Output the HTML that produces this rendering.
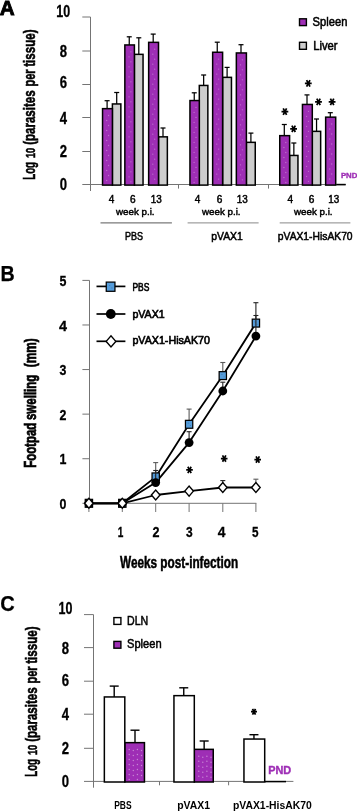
<!DOCTYPE html>
<html><head><meta charset="utf-8"><title>Figure</title>
<style>
html,body{margin:0;padding:0;background:#fff;}
body{width:357px;height:812px;overflow:hidden;}
svg{display:block;will-change:transform;font-family:"Liberation Sans",sans-serif;}
</style></head><body>
<svg width="357" height="812" viewBox="0 0 357 812">

<rect width="357" height="812" fill="#fff"/>
<g id="A">
<text x="-0.3" y="14.5" font-size="20.6" font-weight="bold" text-anchor="start" fill="#000" textLength="14.9" lengthAdjust="spacingAndGlyphs" stroke="#000" stroke-width="0.9">A</text>
<line x1="90.5" y1="17.0" x2="90.5" y2="191" stroke="#747474" stroke-width="1"/>
<line x1="82.3" y1="17.0" x2="90.5" y2="17.0" stroke="#747474" stroke-width="1"/>
<line x1="82.3" y1="51.0" x2="90.5" y2="51.0" stroke="#747474" stroke-width="1"/>
<line x1="82.3" y1="84.5" x2="90.5" y2="84.5" stroke="#747474" stroke-width="1"/>
<line x1="82.3" y1="117.5" x2="90.5" y2="117.5" stroke="#747474" stroke-width="1"/>
<line x1="82.3" y1="151.5" x2="90.5" y2="151.5" stroke="#747474" stroke-width="1"/>
<line x1="82.3" y1="184.5" x2="345.7" y2="184.5" stroke="#747474" stroke-width="1"/>
<line x1="178.5" y1="184.5" x2="178.5" y2="188.6" stroke="#747474" stroke-width="1"/>
<line x1="268.5" y1="184.5" x2="268.5" y2="188.6" stroke="#747474" stroke-width="1"/>
<text x="56.35" y="16.8" font-size="15.6" font-weight="bold" text-anchor="start" fill="#000" textLength="13.9" lengthAdjust="spacingAndGlyphs" stroke="#000" stroke-width="0.3">10</text>
<text x="59.65" y="57.0" font-size="15.6" font-weight="bold" text-anchor="start" fill="#000" textLength="7.3" lengthAdjust="spacingAndGlyphs" stroke="#000" stroke-width="0.3">8</text>
<text x="59.65" y="88.4" font-size="15.6" font-weight="bold" text-anchor="start" fill="#000" textLength="7.3" lengthAdjust="spacingAndGlyphs" stroke="#000" stroke-width="0.3">6</text>
<text x="59.65" y="123.8" font-size="15.6" font-weight="bold" text-anchor="start" fill="#000" textLength="7.3" lengthAdjust="spacingAndGlyphs" stroke="#000" stroke-width="0.3">4</text>
<text x="59.65" y="156.8" font-size="15.6" font-weight="bold" text-anchor="start" fill="#000" textLength="7.3" lengthAdjust="spacingAndGlyphs" stroke="#000" stroke-width="0.3">2</text>
<text x="59.65" y="190.4" font-size="15.6" font-weight="bold" text-anchor="start" fill="#000" textLength="7.3" lengthAdjust="spacingAndGlyphs" stroke="#000" stroke-width="0.3">0</text>
<g transform="translate(35.2 179.8) rotate(-90)">
<text x="0" y="0" font-size="16.2" font-weight="bold" text-anchor="start" fill="#000" textLength="17.8" lengthAdjust="spacingAndGlyphs" stroke="#000" stroke-width="0.55">Log</text>
<text x="21.8" y="0" font-size="12.0" font-weight="bold" text-anchor="start" fill="#000" textLength="10.2" lengthAdjust="spacingAndGlyphs" stroke="#000" stroke-width="0.55">10</text>
<text x="35.0" y="0" font-size="16.2" font-weight="bold" text-anchor="start" fill="#000" textLength="54.4" lengthAdjust="spacingAndGlyphs" stroke="#000" stroke-width="0.55">(parasites</text>
<text x="93.2" y="0" font-size="16.2" font-weight="bold" text-anchor="start" fill="#000" textLength="17.2" lengthAdjust="spacingAndGlyphs" stroke="#000" stroke-width="0.55">per</text>
<text x="113.0" y="0" font-size="16.2" font-weight="bold" text-anchor="start" fill="#000" textLength="37.4" lengthAdjust="spacingAndGlyphs" stroke="#000" stroke-width="0.55">tissue)</text>
</g>
<line x1="116.7" y1="92.5" x2="116.7" y2="104.2" stroke="#000" stroke-width="1.25"/>
<line x1="114.2" y1="92.5" x2="119.2" y2="92.5" stroke="#000" stroke-width="1.25"/>
<rect x="112.40" y="103.95" width="8.45" height="81.15" fill="#CDCDCD" stroke="#000" stroke-width="1.5"/>
<line x1="107.1" y1="100.7" x2="107.1" y2="108.9" stroke="#000" stroke-width="1.25"/>
<line x1="104.6" y1="100.7" x2="109.6" y2="100.7" stroke="#000" stroke-width="1.25"/>
<rect x="102.55" y="108.65" width="9.85" height="76.45" fill="#9E2EB5" stroke="#000" stroke-width="1.5"/>
<circle cx="108.6" cy="115.5" r="0.65" fill="#fff" opacity="0.32"/>
<circle cx="106.7" cy="120.5" r="0.65" fill="#fff" opacity="0.32"/>
<circle cx="108.6" cy="125.5" r="0.65" fill="#fff" opacity="0.32"/>
<circle cx="106.7" cy="130.5" r="0.65" fill="#fff" opacity="0.32"/>
<circle cx="108.6" cy="135.5" r="0.65" fill="#fff" opacity="0.32"/>
<circle cx="106.7" cy="140.5" r="0.65" fill="#fff" opacity="0.32"/>
<circle cx="108.6" cy="145.5" r="0.65" fill="#fff" opacity="0.32"/>
<circle cx="106.7" cy="150.5" r="0.65" fill="#fff" opacity="0.32"/>
<circle cx="108.6" cy="155.5" r="0.65" fill="#fff" opacity="0.32"/>
<circle cx="106.7" cy="160.5" r="0.65" fill="#fff" opacity="0.32"/>
<circle cx="108.6" cy="165.5" r="0.65" fill="#fff" opacity="0.32"/>
<circle cx="106.7" cy="170.5" r="0.65" fill="#fff" opacity="0.32"/>
<circle cx="108.6" cy="175.5" r="0.65" fill="#fff" opacity="0.32"/>
<circle cx="106.7" cy="180.5" r="0.65" fill="#fff" opacity="0.32"/>
<line x1="138.8" y1="37.8" x2="138.8" y2="54.6" stroke="#000" stroke-width="1.25"/>
<line x1="136.3" y1="37.8" x2="141.3" y2="37.8" stroke="#000" stroke-width="1.25"/>
<rect x="134.40" y="54.35" width="8.65" height="130.75" fill="#CDCDCD" stroke="#000" stroke-width="1.5"/>
<line x1="129.25" y1="36.8" x2="129.25" y2="45.199999999999996" stroke="#000" stroke-width="1.25"/>
<line x1="126.75" y1="36.8" x2="131.75" y2="36.8" stroke="#000" stroke-width="1.25"/>
<rect x="124.85" y="44.95" width="9.55" height="140.15" fill="#9E2EB5" stroke="#000" stroke-width="1.5"/>
<circle cx="130.9" cy="51.8" r="0.65" fill="#fff" opacity="0.32"/>
<circle cx="129.0" cy="56.8" r="0.65" fill="#fff" opacity="0.32"/>
<circle cx="130.9" cy="61.8" r="0.65" fill="#fff" opacity="0.32"/>
<circle cx="129.0" cy="66.8" r="0.65" fill="#fff" opacity="0.32"/>
<circle cx="130.9" cy="71.8" r="0.65" fill="#fff" opacity="0.32"/>
<circle cx="129.0" cy="76.8" r="0.65" fill="#fff" opacity="0.32"/>
<circle cx="130.9" cy="81.8" r="0.65" fill="#fff" opacity="0.32"/>
<circle cx="129.0" cy="86.8" r="0.65" fill="#fff" opacity="0.32"/>
<circle cx="130.9" cy="91.8" r="0.65" fill="#fff" opacity="0.32"/>
<circle cx="129.0" cy="96.8" r="0.65" fill="#fff" opacity="0.32"/>
<circle cx="130.9" cy="101.8" r="0.65" fill="#fff" opacity="0.32"/>
<circle cx="129.0" cy="106.8" r="0.65" fill="#fff" opacity="0.32"/>
<circle cx="130.9" cy="111.8" r="0.65" fill="#fff" opacity="0.32"/>
<circle cx="129.0" cy="116.8" r="0.65" fill="#fff" opacity="0.32"/>
<circle cx="130.9" cy="121.8" r="0.65" fill="#fff" opacity="0.32"/>
<circle cx="129.0" cy="126.8" r="0.65" fill="#fff" opacity="0.32"/>
<circle cx="130.9" cy="131.8" r="0.65" fill="#fff" opacity="0.32"/>
<circle cx="129.0" cy="136.8" r="0.65" fill="#fff" opacity="0.32"/>
<circle cx="130.9" cy="141.8" r="0.65" fill="#fff" opacity="0.32"/>
<circle cx="129.0" cy="146.8" r="0.65" fill="#fff" opacity="0.32"/>
<circle cx="130.9" cy="151.8" r="0.65" fill="#fff" opacity="0.32"/>
<circle cx="129.0" cy="156.8" r="0.65" fill="#fff" opacity="0.32"/>
<circle cx="130.9" cy="161.8" r="0.65" fill="#fff" opacity="0.32"/>
<circle cx="129.0" cy="166.8" r="0.65" fill="#fff" opacity="0.32"/>
<circle cx="130.9" cy="171.8" r="0.65" fill="#fff" opacity="0.32"/>
<circle cx="129.0" cy="176.8" r="0.65" fill="#fff" opacity="0.32"/>
<circle cx="130.9" cy="181.8" r="0.65" fill="#fff" opacity="0.32"/>
<line x1="163.0" y1="128.0" x2="163.0" y2="137.1" stroke="#000" stroke-width="1.25"/>
<line x1="160.5" y1="128.0" x2="165.5" y2="128.0" stroke="#000" stroke-width="1.25"/>
<rect x="158.50" y="136.85" width="8.85" height="48.25" fill="#CDCDCD" stroke="#000" stroke-width="1.5"/>
<line x1="153.2" y1="34.1" x2="153.2" y2="42.6" stroke="#000" stroke-width="1.25"/>
<line x1="150.7" y1="34.1" x2="155.7" y2="34.1" stroke="#000" stroke-width="1.25"/>
<rect x="148.65" y="42.35" width="9.85" height="142.75" fill="#9E2EB5" stroke="#000" stroke-width="1.5"/>
<circle cx="154.7" cy="49.2" r="0.65" fill="#fff" opacity="0.32"/>
<circle cx="152.8" cy="54.2" r="0.65" fill="#fff" opacity="0.32"/>
<circle cx="154.7" cy="59.2" r="0.65" fill="#fff" opacity="0.32"/>
<circle cx="152.8" cy="64.2" r="0.65" fill="#fff" opacity="0.32"/>
<circle cx="154.7" cy="69.2" r="0.65" fill="#fff" opacity="0.32"/>
<circle cx="152.8" cy="74.2" r="0.65" fill="#fff" opacity="0.32"/>
<circle cx="154.7" cy="79.2" r="0.65" fill="#fff" opacity="0.32"/>
<circle cx="152.8" cy="84.2" r="0.65" fill="#fff" opacity="0.32"/>
<circle cx="154.7" cy="89.2" r="0.65" fill="#fff" opacity="0.32"/>
<circle cx="152.8" cy="94.2" r="0.65" fill="#fff" opacity="0.32"/>
<circle cx="154.7" cy="99.2" r="0.65" fill="#fff" opacity="0.32"/>
<circle cx="152.8" cy="104.2" r="0.65" fill="#fff" opacity="0.32"/>
<circle cx="154.7" cy="109.2" r="0.65" fill="#fff" opacity="0.32"/>
<circle cx="152.8" cy="114.2" r="0.65" fill="#fff" opacity="0.32"/>
<circle cx="154.7" cy="119.2" r="0.65" fill="#fff" opacity="0.32"/>
<circle cx="152.8" cy="124.2" r="0.65" fill="#fff" opacity="0.32"/>
<circle cx="154.7" cy="129.2" r="0.65" fill="#fff" opacity="0.32"/>
<circle cx="152.8" cy="134.2" r="0.65" fill="#fff" opacity="0.32"/>
<circle cx="154.7" cy="139.2" r="0.65" fill="#fff" opacity="0.32"/>
<circle cx="152.8" cy="144.2" r="0.65" fill="#fff" opacity="0.32"/>
<circle cx="154.7" cy="149.2" r="0.65" fill="#fff" opacity="0.32"/>
<circle cx="152.8" cy="154.2" r="0.65" fill="#fff" opacity="0.32"/>
<circle cx="154.7" cy="159.2" r="0.65" fill="#fff" opacity="0.32"/>
<circle cx="152.8" cy="164.2" r="0.65" fill="#fff" opacity="0.32"/>
<circle cx="154.7" cy="169.2" r="0.65" fill="#fff" opacity="0.32"/>
<circle cx="152.8" cy="174.2" r="0.65" fill="#fff" opacity="0.32"/>
<circle cx="154.7" cy="179.2" r="0.65" fill="#fff" opacity="0.32"/>
<line x1="203.64999999999998" y1="75.0" x2="203.64999999999998" y2="85.7" stroke="#000" stroke-width="1.25"/>
<line x1="201.14999999999998" y1="75.0" x2="206.14999999999998" y2="75.0" stroke="#000" stroke-width="1.25"/>
<rect x="199.30" y="85.45" width="8.55" height="99.65" fill="#CDCDCD" stroke="#000" stroke-width="1.5"/>
<line x1="194.25" y1="92.8" x2="194.25" y2="100.80000000000001" stroke="#000" stroke-width="1.25"/>
<line x1="191.75" y1="92.8" x2="196.75" y2="92.8" stroke="#000" stroke-width="1.25"/>
<rect x="189.95" y="100.55" width="9.35" height="84.55" fill="#9E2EB5" stroke="#000" stroke-width="1.5"/>
<circle cx="196.0" cy="107.4" r="0.65" fill="#fff" opacity="0.32"/>
<circle cx="194.1" cy="112.4" r="0.65" fill="#fff" opacity="0.32"/>
<circle cx="196.0" cy="117.4" r="0.65" fill="#fff" opacity="0.32"/>
<circle cx="194.1" cy="122.4" r="0.65" fill="#fff" opacity="0.32"/>
<circle cx="196.0" cy="127.4" r="0.65" fill="#fff" opacity="0.32"/>
<circle cx="194.1" cy="132.4" r="0.65" fill="#fff" opacity="0.32"/>
<circle cx="196.0" cy="137.4" r="0.65" fill="#fff" opacity="0.32"/>
<circle cx="194.1" cy="142.4" r="0.65" fill="#fff" opacity="0.32"/>
<circle cx="196.0" cy="147.4" r="0.65" fill="#fff" opacity="0.32"/>
<circle cx="194.1" cy="152.4" r="0.65" fill="#fff" opacity="0.32"/>
<circle cx="196.0" cy="157.4" r="0.65" fill="#fff" opacity="0.32"/>
<circle cx="194.1" cy="162.4" r="0.65" fill="#fff" opacity="0.32"/>
<circle cx="196.0" cy="167.4" r="0.65" fill="#fff" opacity="0.32"/>
<circle cx="194.1" cy="172.4" r="0.65" fill="#fff" opacity="0.32"/>
<circle cx="196.0" cy="177.4" r="0.65" fill="#fff" opacity="0.32"/>
<circle cx="194.1" cy="182.4" r="0.65" fill="#fff" opacity="0.32"/>
<line x1="227.10000000000002" y1="67.4" x2="227.10000000000002" y2="77.60000000000001" stroke="#000" stroke-width="1.25"/>
<line x1="224.60000000000002" y1="67.4" x2="229.60000000000002" y2="67.4" stroke="#000" stroke-width="1.25"/>
<rect x="222.60" y="77.35" width="8.85" height="107.75" fill="#CDCDCD" stroke="#000" stroke-width="1.5"/>
<line x1="217.25" y1="42.2" x2="217.25" y2="52.5" stroke="#000" stroke-width="1.25"/>
<line x1="214.75" y1="42.2" x2="219.75" y2="42.2" stroke="#000" stroke-width="1.25"/>
<rect x="212.65" y="52.25" width="9.95" height="132.85" fill="#9E2EB5" stroke="#000" stroke-width="1.5"/>
<circle cx="218.7" cy="59.1" r="0.65" fill="#fff" opacity="0.32"/>
<circle cx="216.8" cy="64.1" r="0.65" fill="#fff" opacity="0.32"/>
<circle cx="218.7" cy="69.1" r="0.65" fill="#fff" opacity="0.32"/>
<circle cx="216.8" cy="74.1" r="0.65" fill="#fff" opacity="0.32"/>
<circle cx="218.7" cy="79.1" r="0.65" fill="#fff" opacity="0.32"/>
<circle cx="216.8" cy="84.1" r="0.65" fill="#fff" opacity="0.32"/>
<circle cx="218.7" cy="89.1" r="0.65" fill="#fff" opacity="0.32"/>
<circle cx="216.8" cy="94.1" r="0.65" fill="#fff" opacity="0.32"/>
<circle cx="218.7" cy="99.1" r="0.65" fill="#fff" opacity="0.32"/>
<circle cx="216.8" cy="104.1" r="0.65" fill="#fff" opacity="0.32"/>
<circle cx="218.7" cy="109.1" r="0.65" fill="#fff" opacity="0.32"/>
<circle cx="216.8" cy="114.1" r="0.65" fill="#fff" opacity="0.32"/>
<circle cx="218.7" cy="119.1" r="0.65" fill="#fff" opacity="0.32"/>
<circle cx="216.8" cy="124.1" r="0.65" fill="#fff" opacity="0.32"/>
<circle cx="218.7" cy="129.1" r="0.65" fill="#fff" opacity="0.32"/>
<circle cx="216.8" cy="134.1" r="0.65" fill="#fff" opacity="0.32"/>
<circle cx="218.7" cy="139.1" r="0.65" fill="#fff" opacity="0.32"/>
<circle cx="216.8" cy="144.1" r="0.65" fill="#fff" opacity="0.32"/>
<circle cx="218.7" cy="149.1" r="0.65" fill="#fff" opacity="0.32"/>
<circle cx="216.8" cy="154.1" r="0.65" fill="#fff" opacity="0.32"/>
<circle cx="218.7" cy="159.1" r="0.65" fill="#fff" opacity="0.32"/>
<circle cx="216.8" cy="164.1" r="0.65" fill="#fff" opacity="0.32"/>
<circle cx="218.7" cy="169.1" r="0.65" fill="#fff" opacity="0.32"/>
<circle cx="216.8" cy="174.1" r="0.65" fill="#fff" opacity="0.32"/>
<circle cx="218.7" cy="179.1" r="0.65" fill="#fff" opacity="0.32"/>
<line x1="250.89999999999998" y1="133.1" x2="250.89999999999998" y2="142.6" stroke="#000" stroke-width="1.25"/>
<line x1="248.39999999999998" y1="133.1" x2="253.39999999999998" y2="133.1" stroke="#000" stroke-width="1.25"/>
<rect x="246.40" y="142.35" width="8.85" height="42.75" fill="#CDCDCD" stroke="#000" stroke-width="1.5"/>
<line x1="241.0" y1="44.7" x2="241.0" y2="53.199999999999996" stroke="#000" stroke-width="1.25"/>
<line x1="238.5" y1="44.7" x2="243.5" y2="44.7" stroke="#000" stroke-width="1.25"/>
<rect x="236.35" y="52.95" width="10.05" height="132.15" fill="#9E2EB5" stroke="#000" stroke-width="1.5"/>
<circle cx="242.4" cy="59.8" r="0.65" fill="#fff" opacity="0.32"/>
<circle cx="240.5" cy="64.8" r="0.65" fill="#fff" opacity="0.32"/>
<circle cx="242.4" cy="69.8" r="0.65" fill="#fff" opacity="0.32"/>
<circle cx="240.5" cy="74.8" r="0.65" fill="#fff" opacity="0.32"/>
<circle cx="242.4" cy="79.8" r="0.65" fill="#fff" opacity="0.32"/>
<circle cx="240.5" cy="84.8" r="0.65" fill="#fff" opacity="0.32"/>
<circle cx="242.4" cy="89.8" r="0.65" fill="#fff" opacity="0.32"/>
<circle cx="240.5" cy="94.8" r="0.65" fill="#fff" opacity="0.32"/>
<circle cx="242.4" cy="99.8" r="0.65" fill="#fff" opacity="0.32"/>
<circle cx="240.5" cy="104.8" r="0.65" fill="#fff" opacity="0.32"/>
<circle cx="242.4" cy="109.8" r="0.65" fill="#fff" opacity="0.32"/>
<circle cx="240.5" cy="114.8" r="0.65" fill="#fff" opacity="0.32"/>
<circle cx="242.4" cy="119.8" r="0.65" fill="#fff" opacity="0.32"/>
<circle cx="240.5" cy="124.8" r="0.65" fill="#fff" opacity="0.32"/>
<circle cx="242.4" cy="129.8" r="0.65" fill="#fff" opacity="0.32"/>
<circle cx="240.5" cy="134.8" r="0.65" fill="#fff" opacity="0.32"/>
<circle cx="242.4" cy="139.8" r="0.65" fill="#fff" opacity="0.32"/>
<circle cx="240.5" cy="144.8" r="0.65" fill="#fff" opacity="0.32"/>
<circle cx="242.4" cy="149.8" r="0.65" fill="#fff" opacity="0.32"/>
<circle cx="240.5" cy="154.8" r="0.65" fill="#fff" opacity="0.32"/>
<circle cx="242.4" cy="159.8" r="0.65" fill="#fff" opacity="0.32"/>
<circle cx="240.5" cy="164.8" r="0.65" fill="#fff" opacity="0.32"/>
<circle cx="242.4" cy="169.8" r="0.65" fill="#fff" opacity="0.32"/>
<circle cx="240.5" cy="174.8" r="0.65" fill="#fff" opacity="0.32"/>
<circle cx="242.4" cy="179.8" r="0.65" fill="#fff" opacity="0.32"/>
<line x1="293.84999999999997" y1="143.0" x2="293.84999999999997" y2="155.70000000000002" stroke="#000" stroke-width="1.25"/>
<line x1="291.34999999999997" y1="143.0" x2="296.34999999999997" y2="143.0" stroke="#000" stroke-width="1.25"/>
<rect x="289.60" y="155.45" width="8.35" height="29.65" fill="#CDCDCD" stroke="#000" stroke-width="1.5"/>
<line x1="284.29999999999995" y1="124.5" x2="284.29999999999995" y2="135.9" stroke="#000" stroke-width="1.25"/>
<line x1="281.79999999999995" y1="124.5" x2="286.79999999999995" y2="124.5" stroke="#000" stroke-width="1.25"/>
<rect x="279.75" y="135.65" width="9.85" height="49.45" fill="#9E2EB5" stroke="#000" stroke-width="1.5"/>
<circle cx="285.8" cy="142.5" r="0.65" fill="#fff" opacity="0.32"/>
<circle cx="283.9" cy="147.5" r="0.65" fill="#fff" opacity="0.32"/>
<circle cx="285.8" cy="152.5" r="0.65" fill="#fff" opacity="0.32"/>
<circle cx="283.9" cy="157.5" r="0.65" fill="#fff" opacity="0.32"/>
<circle cx="285.8" cy="162.5" r="0.65" fill="#fff" opacity="0.32"/>
<circle cx="283.9" cy="167.5" r="0.65" fill="#fff" opacity="0.32"/>
<circle cx="285.8" cy="172.5" r="0.65" fill="#fff" opacity="0.32"/>
<circle cx="283.9" cy="177.5" r="0.65" fill="#fff" opacity="0.32"/>
<circle cx="285.8" cy="182.5" r="0.65" fill="#fff" opacity="0.32"/>
<line x1="316.54999999999995" y1="119.0" x2="316.54999999999995" y2="131.6" stroke="#000" stroke-width="1.25"/>
<line x1="314.04999999999995" y1="119.0" x2="319.04999999999995" y2="119.0" stroke="#000" stroke-width="1.25"/>
<rect x="312.30" y="131.35" width="8.35" height="53.75" fill="#CDCDCD" stroke="#000" stroke-width="1.5"/>
<line x1="307.0" y1="94.9" x2="307.0" y2="104.7" stroke="#000" stroke-width="1.25"/>
<line x1="304.5" y1="94.9" x2="309.5" y2="94.9" stroke="#000" stroke-width="1.25"/>
<rect x="302.45" y="104.45" width="9.85" height="80.65" fill="#9E2EB5" stroke="#000" stroke-width="1.5"/>
<circle cx="308.5" cy="111.3" r="0.65" fill="#fff" opacity="0.32"/>
<circle cx="306.6" cy="116.3" r="0.65" fill="#fff" opacity="0.32"/>
<circle cx="308.5" cy="121.3" r="0.65" fill="#fff" opacity="0.32"/>
<circle cx="306.6" cy="126.3" r="0.65" fill="#fff" opacity="0.32"/>
<circle cx="308.5" cy="131.3" r="0.65" fill="#fff" opacity="0.32"/>
<circle cx="306.6" cy="136.3" r="0.65" fill="#fff" opacity="0.32"/>
<circle cx="308.5" cy="141.3" r="0.65" fill="#fff" opacity="0.32"/>
<circle cx="306.6" cy="146.3" r="0.65" fill="#fff" opacity="0.32"/>
<circle cx="308.5" cy="151.3" r="0.65" fill="#fff" opacity="0.32"/>
<circle cx="306.6" cy="156.3" r="0.65" fill="#fff" opacity="0.32"/>
<circle cx="308.5" cy="161.3" r="0.65" fill="#fff" opacity="0.32"/>
<circle cx="306.6" cy="166.3" r="0.65" fill="#fff" opacity="0.32"/>
<circle cx="308.5" cy="171.3" r="0.65" fill="#fff" opacity="0.32"/>
<circle cx="306.6" cy="176.3" r="0.65" fill="#fff" opacity="0.32"/>
<circle cx="308.5" cy="181.3" r="0.65" fill="#fff" opacity="0.32"/>
<line x1="330.29999999999995" y1="112.7" x2="330.29999999999995" y2="117.4" stroke="#000" stroke-width="1.25"/>
<line x1="327.79999999999995" y1="112.7" x2="332.79999999999995" y2="112.7" stroke="#000" stroke-width="1.25"/>
<rect x="325.65" y="117.15" width="10.05" height="67.95" fill="#9E2EB5" stroke="#000" stroke-width="1.5"/>
<circle cx="331.7" cy="124.0" r="0.65" fill="#fff" opacity="0.32"/>
<circle cx="329.8" cy="129.0" r="0.65" fill="#fff" opacity="0.32"/>
<circle cx="331.7" cy="134.0" r="0.65" fill="#fff" opacity="0.32"/>
<circle cx="329.8" cy="139.0" r="0.65" fill="#fff" opacity="0.32"/>
<circle cx="331.7" cy="144.0" r="0.65" fill="#fff" opacity="0.32"/>
<circle cx="329.8" cy="149.0" r="0.65" fill="#fff" opacity="0.32"/>
<circle cx="331.7" cy="154.0" r="0.65" fill="#fff" opacity="0.32"/>
<circle cx="329.8" cy="159.0" r="0.65" fill="#fff" opacity="0.32"/>
<circle cx="331.7" cy="164.0" r="0.65" fill="#fff" opacity="0.32"/>
<circle cx="329.8" cy="169.0" r="0.65" fill="#fff" opacity="0.32"/>
<circle cx="331.7" cy="174.0" r="0.65" fill="#fff" opacity="0.32"/>
<circle cx="329.8" cy="179.0" r="0.65" fill="#fff" opacity="0.32"/>
<line x1="336.3" y1="184.6" x2="345.7" y2="184.6" stroke="#000" stroke-width="1.6"/>
<text x="340.9" y="177.8" font-size="6.6" font-weight="bold" text-anchor="start" fill="#9E2EB5" textLength="16.5" lengthAdjust="spacingAndGlyphs" stroke="#9E2EB5" stroke-width="0.3">PND</text>
<path d="M281.50 111.60H288.30M283.20 108.37L286.60 114.83M283.20 114.83L286.60 108.37" stroke="#000" stroke-width="1.75" fill="none"/>
<path d="M290.20 128.80H297.00M291.90 125.57L295.30 132.03M291.90 132.03L295.30 125.57" stroke="#000" stroke-width="1.75" fill="none"/>
<path d="M304.90 83.40H311.70M306.60 80.17L310.00 86.63M306.60 86.63L310.00 80.17" stroke="#000" stroke-width="1.75" fill="none"/>
<path d="M315.10 101.90H321.90M316.80 98.67L320.20 105.13M316.80 105.13L320.20 98.67" stroke="#000" stroke-width="1.75" fill="none"/>
<path d="M328.70 101.90H335.50M330.40 98.67L333.80 105.13M330.40 105.13L333.80 98.67" stroke="#000" stroke-width="1.75" fill="none"/>
<text x="108.8" y="203.3" font-size="10.0" font-weight="normal" text-anchor="start" fill="#000" textLength="5.6" lengthAdjust="spacingAndGlyphs" stroke="#000" stroke-width="0.45">4</text>
<text x="130.0" y="203.3" font-size="10.0" font-weight="normal" text-anchor="start" fill="#000" textLength="5.6" lengthAdjust="spacingAndGlyphs" stroke="#000" stroke-width="0.45">6</text>
<text x="150.8" y="203.3" font-size="10.0" font-weight="normal" text-anchor="start" fill="#000" textLength="11.0" lengthAdjust="spacingAndGlyphs" stroke="#000" stroke-width="0.45">13</text>
<text x="116.0" y="215.2" font-size="9.8" font-weight="normal" text-anchor="start" fill="#000" textLength="38.6" lengthAdjust="spacingAndGlyphs" stroke="#000" stroke-width="0.45">week p.i.</text>
<line x1="100.5" y1="222.9" x2="171.9" y2="222.9" stroke="#7a7a7a" stroke-width="1.4"/>
<text x="124.9" y="240.2" font-size="11.8" font-weight="normal" text-anchor="start" fill="#000" textLength="18.0" lengthAdjust="spacingAndGlyphs" stroke="#000" stroke-width="0.55">PBS</text>
<text x="194.8" y="203.3" font-size="10.0" font-weight="normal" text-anchor="start" fill="#000" textLength="5.6" lengthAdjust="spacingAndGlyphs" stroke="#000" stroke-width="0.45">4</text>
<text x="216.8" y="203.3" font-size="10.0" font-weight="normal" text-anchor="start" fill="#000" textLength="5.6" lengthAdjust="spacingAndGlyphs" stroke="#000" stroke-width="0.45">6</text>
<text x="236.8" y="203.3" font-size="10.0" font-weight="normal" text-anchor="start" fill="#000" textLength="11.0" lengthAdjust="spacingAndGlyphs" stroke="#000" stroke-width="0.45">13</text>
<text x="202.0" y="215.2" font-size="9.8" font-weight="normal" text-anchor="start" fill="#000" textLength="38.6" lengthAdjust="spacingAndGlyphs" stroke="#000" stroke-width="0.45">week p.i.</text>
<line x1="187.6" y1="222.9" x2="258.6" y2="222.9" stroke="#7a7a7a" stroke-width="0.9"/>
<text x="211.2" y="240.2" font-size="11.8" font-weight="normal" text-anchor="start" fill="#000" textLength="31.6" lengthAdjust="spacingAndGlyphs" stroke="#000" stroke-width="0.55">pVAX1</text>
<text x="287.4" y="203.3" font-size="10.0" font-weight="normal" text-anchor="start" fill="#000" textLength="5.6" lengthAdjust="spacingAndGlyphs" stroke="#000" stroke-width="0.45">4</text>
<text x="308.8" y="203.3" font-size="10.0" font-weight="normal" text-anchor="start" fill="#000" textLength="5.6" lengthAdjust="spacingAndGlyphs" stroke="#000" stroke-width="0.45">6</text>
<text x="328.3" y="203.3" font-size="10.0" font-weight="normal" text-anchor="start" fill="#000" textLength="11.0" lengthAdjust="spacingAndGlyphs" stroke="#000" stroke-width="0.45">13</text>
<text x="294.0" y="215.2" font-size="9.8" font-weight="normal" text-anchor="start" fill="#000" textLength="38.6" lengthAdjust="spacingAndGlyphs" stroke="#000" stroke-width="0.45">week p.i.</text>
<line x1="279.7" y1="222.9" x2="350.4" y2="222.9" stroke="#7a7a7a" stroke-width="0.9"/>
<text x="277.8" y="240.2" font-size="11.8" font-weight="normal" text-anchor="start" fill="#000" textLength="74.8" lengthAdjust="spacingAndGlyphs" stroke="#000" stroke-width="0.55">pVAX1-HisAK70</text>
<rect x="299.5" y="18.8" width="6.9" height="6.8" fill="#9E2EB5" stroke="#000" stroke-width="1.4"/>
<rect x="299.5" y="42.3" width="6.9" height="7.0" fill="#CDCDCD" stroke="#000" stroke-width="1.4"/>
<text x="312.6" y="26.2" font-size="12.7" font-weight="normal" text-anchor="start" fill="#000" textLength="34.8" lengthAdjust="spacingAndGlyphs" stroke="#000" stroke-width="0.55">Spleen</text>
<text x="313.2" y="49.8" font-size="12.7" font-weight="normal" text-anchor="start" fill="#000" textLength="24.4" lengthAdjust="spacingAndGlyphs" stroke="#000" stroke-width="0.55">Liver</text>
</g>
<g id="B">
<text x="0.4" y="281.0" font-size="21.6" font-weight="bold" text-anchor="start" fill="#000" textLength="14.2" lengthAdjust="spacingAndGlyphs" stroke="#000" stroke-width="0.25">B</text>
<line x1="89.5" y1="280.4" x2="89.5" y2="503.3" stroke="#747474" stroke-width="1"/>
<line x1="82.4" y1="280.4" x2="89.5" y2="280.4" stroke="#747474" stroke-width="1"/>
<line x1="82.4" y1="324.98" x2="89.5" y2="324.98" stroke="#747474" stroke-width="1"/>
<line x1="82.4" y1="369.56" x2="89.5" y2="369.56" stroke="#747474" stroke-width="1"/>
<line x1="82.4" y1="414.14" x2="89.5" y2="414.14" stroke="#747474" stroke-width="1"/>
<line x1="82.4" y1="458.72" x2="89.5" y2="458.72" stroke="#747474" stroke-width="1"/>
<line x1="82.4" y1="503.3" x2="89.5" y2="503.3" stroke="#747474" stroke-width="1"/>
<line x1="89.5" y1="503.3" x2="256.4" y2="503.3" stroke="#747474" stroke-width="1"/>
<line x1="88.9" y1="503.3" x2="88.9" y2="512.0" stroke="#747474" stroke-width="1"/>
<line x1="122.3" y1="503.3" x2="122.3" y2="512.0" stroke="#747474" stroke-width="1"/>
<line x1="155.7" y1="503.3" x2="155.7" y2="512.0" stroke="#747474" stroke-width="1"/>
<line x1="189.1" y1="503.3" x2="189.1" y2="512.0" stroke="#747474" stroke-width="1"/>
<line x1="222.8" y1="503.3" x2="222.8" y2="512.0" stroke="#747474" stroke-width="1"/>
<line x1="255.9" y1="503.3" x2="255.9" y2="512.0" stroke="#747474" stroke-width="1"/>
<text x="59.55" y="286.0" font-size="15.2" font-weight="bold" text-anchor="start" fill="#000" textLength="6.9" lengthAdjust="spacingAndGlyphs" stroke="#000" stroke-width="0.3">5</text>
<text x="59.0" y="330.58" font-size="15.2" font-weight="bold" text-anchor="start" fill="#000" textLength="8.0" lengthAdjust="spacingAndGlyphs" stroke="#000" stroke-width="0.3">4</text>
<text x="59.55" y="375.16" font-size="15.2" font-weight="bold" text-anchor="start" fill="#000" textLength="6.9" lengthAdjust="spacingAndGlyphs" stroke="#000" stroke-width="0.3">3</text>
<text x="59.55" y="419.74" font-size="15.2" font-weight="bold" text-anchor="start" fill="#000" textLength="6.9" lengthAdjust="spacingAndGlyphs" stroke="#000" stroke-width="0.3">2</text>
<text x="59.55" y="464.32" font-size="15.2" font-weight="bold" text-anchor="start" fill="#000" textLength="6.9" lengthAdjust="spacingAndGlyphs" stroke="#000" stroke-width="0.3">1</text>
<text x="59.55" y="508.9" font-size="15.2" font-weight="bold" text-anchor="start" fill="#000" textLength="6.9" lengthAdjust="spacingAndGlyphs" stroke="#000" stroke-width="0.3">0</text>
<g transform="translate(36.4 467.8) rotate(-90)">
<text x="0" y="0" font-size="15.8" font-weight="bold" text-anchor="start" fill="#000" textLength="45.0" lengthAdjust="spacingAndGlyphs" stroke="#000" stroke-width="0.7">Footpad</text>
<text x="47.7" y="0" font-size="15.8" font-weight="bold" text-anchor="start" fill="#000" textLength="45.5" lengthAdjust="spacingAndGlyphs" stroke="#000" stroke-width="0.7">swelling</text>
<text x="100.6" y="0" font-size="15.8" font-weight="bold" text-anchor="start" fill="#000" textLength="29.0" lengthAdjust="spacingAndGlyphs" stroke="#000" stroke-width="0.7">(mm)</text>
</g>
<line x1="155.7" y1="462.6" x2="155.7" y2="476.9" stroke="#5a5a5a" stroke-width="1.1"/>
<line x1="153.2" y1="462.6" x2="158.2" y2="462.6" stroke="#5a5a5a" stroke-width="1.1"/>
<line x1="189.1" y1="409.1" x2="189.1" y2="424.3" stroke="#5a5a5a" stroke-width="1.1"/>
<line x1="186.6" y1="409.1" x2="191.6" y2="409.1" stroke="#5a5a5a" stroke-width="1.1"/>
<line x1="222.8" y1="362.5" x2="222.8" y2="375.6" stroke="#5a5a5a" stroke-width="1.1"/>
<line x1="220.3" y1="362.5" x2="225.3" y2="362.5" stroke="#5a5a5a" stroke-width="1.1"/>
<line x1="255.9" y1="302.7" x2="255.9" y2="323.1" stroke="#222" stroke-width="1.1"/>
<line x1="253.4" y1="302.7" x2="258.4" y2="302.7" stroke="#222" stroke-width="1.1"/>
<polyline points="88.90,503.30 122.30,503.30 155.70,476.90 189.10,424.30 222.80,375.60 255.90,323.10" fill="none" stroke="#000" stroke-width="1.8" stroke-linejoin="round"/>
<polyline points="88.90,503.30 122.30,503.30 155.70,482.60 189.10,442.60 222.80,391.00 255.90,336.10" fill="none" stroke="#000" stroke-width="1.8" stroke-linejoin="round"/>
<polyline points="88.90,503.30 122.30,503.30 155.70,495.00 189.10,491.10 222.80,487.50 255.90,487.50" fill="none" stroke="#000" stroke-width="1.8" stroke-linejoin="round"/>
<rect x="85.25" y="499.35" width="7.3" height="7.9" fill="#559CDA" stroke="#000" stroke-width="1.25"/>
<circle cx="88.00" cy="502.10" r="0.55" fill="#1f4e79" opacity="0.45"/><circle cx="90.20" cy="504.50" r="0.55" fill="#1f4e79" opacity="0.45"/>
<rect x="118.65" y="499.35" width="7.3" height="7.9" fill="#559CDA" stroke="#000" stroke-width="1.25"/>
<circle cx="121.40" cy="502.10" r="0.55" fill="#1f4e79" opacity="0.45"/><circle cx="123.60" cy="504.50" r="0.55" fill="#1f4e79" opacity="0.45"/>
<rect x="152.05" y="472.95" width="7.3" height="7.9" fill="#559CDA" stroke="#000" stroke-width="1.25"/>
<circle cx="154.80" cy="475.70" r="0.55" fill="#1f4e79" opacity="0.45"/><circle cx="157.00" cy="478.10" r="0.55" fill="#1f4e79" opacity="0.45"/>
<rect x="185.45" y="420.35" width="7.3" height="7.9" fill="#559CDA" stroke="#000" stroke-width="1.25"/>
<circle cx="188.20" cy="423.10" r="0.55" fill="#1f4e79" opacity="0.45"/><circle cx="190.40" cy="425.50" r="0.55" fill="#1f4e79" opacity="0.45"/>
<rect x="219.15" y="371.65" width="7.3" height="7.9" fill="#559CDA" stroke="#000" stroke-width="1.25"/>
<circle cx="221.90" cy="374.40" r="0.55" fill="#1f4e79" opacity="0.45"/><circle cx="224.10" cy="376.80" r="0.55" fill="#1f4e79" opacity="0.45"/>
<rect x="252.25" y="319.15" width="7.3" height="7.9" fill="#559CDA" stroke="#000" stroke-width="1.25"/>
<circle cx="255.00" cy="321.90" r="0.55" fill="#1f4e79" opacity="0.45"/><circle cx="257.20" cy="324.30" r="0.55" fill="#1f4e79" opacity="0.45"/>
<line x1="155.7" y1="470.5" x2="155.7" y2="482.6" stroke="#222" stroke-width="1.1"/>
<line x1="153.2" y1="470.5" x2="158.2" y2="470.5" stroke="#222" stroke-width="1.1"/>
<line x1="189.1" y1="431.7" x2="189.1" y2="442.6" stroke="#222" stroke-width="1.1"/>
<line x1="186.6" y1="431.7" x2="191.6" y2="431.7" stroke="#222" stroke-width="1.1"/>
<line x1="222.8" y1="382.2" x2="222.8" y2="391.0" stroke="#222" stroke-width="1.1"/>
<line x1="220.3" y1="382.2" x2="225.3" y2="382.2" stroke="#222" stroke-width="1.1"/>
<line x1="255.9" y1="315.5" x2="255.9" y2="336.1" stroke="#222" stroke-width="1.1"/>
<line x1="253.4" y1="315.5" x2="258.4" y2="315.5" stroke="#222" stroke-width="1.1"/>
<circle cx="88.90" cy="503.30" r="4.4" fill="#000"/>
<circle cx="122.30" cy="503.30" r="4.4" fill="#000"/>
<circle cx="155.70" cy="482.60" r="4.4" fill="#000"/>
<circle cx="189.10" cy="442.60" r="4.4" fill="#000"/>
<circle cx="222.80" cy="391.00" r="4.4" fill="#000"/>
<circle cx="255.90" cy="336.10" r="4.4" fill="#000"/>
<line x1="222.8" y1="480.6" x2="222.8" y2="487.5" stroke="#222" stroke-width="1.1"/>
<line x1="220.3" y1="480.6" x2="225.3" y2="480.6" stroke="#222" stroke-width="1.1"/>
<line x1="255.9" y1="479.2" x2="255.9" y2="487.5" stroke="#5a5a5a" stroke-width="1.1"/>
<line x1="253.4" y1="479.2" x2="258.4" y2="479.2" stroke="#5a5a5a" stroke-width="1.1"/>
<path d="M84.60 503.30 L88.90 498.30 L93.20 503.30 L88.90 508.30 Z" fill="#fff" stroke="#000" stroke-width="1.4" stroke-linejoin="miter"/>
<path d="M118.00 503.30 L122.30 498.30 L126.60 503.30 L122.30 508.30 Z" fill="#fff" stroke="#000" stroke-width="1.4" stroke-linejoin="miter"/>
<path d="M151.40 495.00 L155.70 490.00 L160.00 495.00 L155.70 500.00 Z" fill="#fff" stroke="#000" stroke-width="1.4" stroke-linejoin="miter"/>
<path d="M184.80 491.10 L189.10 486.10 L193.40 491.10 L189.10 496.10 Z" fill="#fff" stroke="#000" stroke-width="1.4" stroke-linejoin="miter"/>
<path d="M218.50 487.50 L222.80 482.50 L227.10 487.50 L222.80 492.50 Z" fill="#fff" stroke="#000" stroke-width="1.4" stroke-linejoin="miter"/>
<path d="M251.60 487.50 L255.90 482.50 L260.20 487.50 L255.90 492.50 Z" fill="#fff" stroke="#000" stroke-width="1.4" stroke-linejoin="miter"/>
<path d="M186.20 469.90H192.80M187.85 466.76L191.15 473.03M187.85 473.03L191.15 466.76" stroke="#000" stroke-width="1.7" fill="none"/>
<path d="M220.90 458.60H227.50M222.55 455.47L225.85 461.74M222.55 461.74L225.85 455.47" stroke="#000" stroke-width="1.7" fill="none"/>
<path d="M254.40 459.60H261.00M256.05 456.47L259.35 462.74M256.05 462.74L259.35 456.47" stroke="#000" stroke-width="1.7" fill="none"/>
<text x="117.8" y="537.2" font-size="15.5" font-weight="bold" text-anchor="start" fill="#000" textLength="5.6" lengthAdjust="spacingAndGlyphs" stroke="#000" stroke-width="0.3">1</text>
<text x="152.5" y="537.2" font-size="15.5" font-weight="bold" text-anchor="start" fill="#000" textLength="7.0" lengthAdjust="spacingAndGlyphs" stroke="#000" stroke-width="0.3">2</text>
<text x="186.05" y="537.2" font-size="15.5" font-weight="bold" text-anchor="start" fill="#000" textLength="6.7" lengthAdjust="spacingAndGlyphs" stroke="#000" stroke-width="0.3">3</text>
<text x="217.85" y="537.2" font-size="15.5" font-weight="bold" text-anchor="start" fill="#000" textLength="7.7" lengthAdjust="spacingAndGlyphs" stroke="#000" stroke-width="0.3">4</text>
<text x="252.05" y="537.2" font-size="15.5" font-weight="bold" text-anchor="start" fill="#000" textLength="6.5" lengthAdjust="spacingAndGlyphs" stroke="#000" stroke-width="0.3">5</text>
<text x="120.0" y="568.3" font-size="16.0" font-weight="bold" text-anchor="start" fill="#000" textLength="118.2" lengthAdjust="spacingAndGlyphs" stroke="#000" stroke-width="0.5">Weeks post-infection</text>
<line x1="96.5" y1="286.4" x2="125.4" y2="286.4" stroke="#000" stroke-width="1.7"/>
<rect x="106.25" y="282.10" width="8.7" height="9.2" fill="#559CDA" stroke="#000" stroke-width="1.25"/>
<circle cx="109.70" cy="285.50" r="0.55" fill="#1f4e79" opacity="0.45"/><circle cx="111.90" cy="287.90" r="0.55" fill="#1f4e79" opacity="0.45"/>
<text x="132.4" y="290.7" font-size="11.3" font-weight="normal" text-anchor="start" fill="#000" textLength="17.0" lengthAdjust="spacingAndGlyphs" stroke="#000" stroke-width="0.65">PBS</text>
<line x1="96.5" y1="314.0" x2="125.4" y2="314.0" stroke="#000" stroke-width="1.7"/>
<circle cx="110.80" cy="314.00" r="4.9" fill="#000"/>
<text x="132.4" y="317.5" font-size="11.3" font-weight="normal" text-anchor="start" fill="#000" textLength="32.3" lengthAdjust="spacingAndGlyphs" stroke="#000" stroke-width="0.65">pVAX1</text>
<line x1="96.5" y1="341.3" x2="125.4" y2="341.3" stroke="#000" stroke-width="1.7"/>
<path d="M106.20 341.40 L111.00 335.90 L115.80 341.40 L111.00 346.90 Z" fill="#fff" stroke="#000" stroke-width="1.4" stroke-linejoin="miter"/>
<text x="132.4" y="344.3" font-size="11.3" font-weight="normal" text-anchor="start" fill="#000" textLength="77.6" lengthAdjust="spacingAndGlyphs" stroke="#000" stroke-width="0.65">pVAX1-HisAK70</text>
</g>
<g id="C">
<text x="0.2" y="610.7" font-size="21.8" font-weight="bold" text-anchor="start" fill="#000" textLength="14.5" lengthAdjust="spacingAndGlyphs" stroke="#000" stroke-width="0.25">C</text>
<line x1="93.5" y1="614.6" x2="93.5" y2="787.7" stroke="#747474" stroke-width="1"/>
<line x1="84.0" y1="614.6" x2="93.5" y2="614.6" stroke="#747474" stroke-width="1"/>
<line x1="84.0" y1="647.6" x2="93.5" y2="647.6" stroke="#747474" stroke-width="1"/>
<line x1="84.0" y1="681.2" x2="93.5" y2="681.2" stroke="#747474" stroke-width="1"/>
<line x1="84.0" y1="714.2" x2="93.5" y2="714.2" stroke="#747474" stroke-width="1"/>
<line x1="84.0" y1="748.3" x2="93.5" y2="748.3" stroke="#747474" stroke-width="1"/>
<line x1="84.0" y1="781.4" x2="293.4" y2="781.4" stroke="#747474" stroke-width="1"/>
<line x1="159.5" y1="781.4" x2="159.5" y2="785.3" stroke="#747474" stroke-width="1"/>
<line x1="228.6" y1="781.4" x2="228.6" y2="785.3" stroke="#747474" stroke-width="1"/>
<text x="58.45" y="613.5" font-size="15.6" font-weight="bold" text-anchor="start" fill="#000" textLength="13.9" lengthAdjust="spacingAndGlyphs" stroke="#000" stroke-width="0.3">10</text>
<text x="61.75" y="653.8" font-size="15.6" font-weight="bold" text-anchor="start" fill="#000" textLength="7.3" lengthAdjust="spacingAndGlyphs" stroke="#000" stroke-width="0.3">8</text>
<text x="61.75" y="686.2" font-size="15.6" font-weight="bold" text-anchor="start" fill="#000" textLength="7.3" lengthAdjust="spacingAndGlyphs" stroke="#000" stroke-width="0.3">6</text>
<text x="61.75" y="720.3" font-size="15.6" font-weight="bold" text-anchor="start" fill="#000" textLength="7.3" lengthAdjust="spacingAndGlyphs" stroke="#000" stroke-width="0.3">4</text>
<text x="61.75" y="753.9" font-size="15.6" font-weight="bold" text-anchor="start" fill="#000" textLength="7.3" lengthAdjust="spacingAndGlyphs" stroke="#000" stroke-width="0.3">2</text>
<text x="61.75" y="787.4" font-size="15.6" font-weight="bold" text-anchor="start" fill="#000" textLength="7.3" lengthAdjust="spacingAndGlyphs" stroke="#000" stroke-width="0.3">0</text>
<g transform="translate(36.8 776.8) rotate(-90)">
<text x="0" y="0" font-size="16.2" font-weight="bold" text-anchor="start" fill="#000" textLength="17.8" lengthAdjust="spacingAndGlyphs" stroke="#000" stroke-width="0.55">Log</text>
<text x="21.8" y="0" font-size="12.0" font-weight="bold" text-anchor="start" fill="#000" textLength="10.2" lengthAdjust="spacingAndGlyphs" stroke="#000" stroke-width="0.55">10</text>
<text x="35.0" y="0" font-size="16.2" font-weight="bold" text-anchor="start" fill="#000" textLength="54.4" lengthAdjust="spacingAndGlyphs" stroke="#000" stroke-width="0.55">(parasites</text>
<text x="93.2" y="0" font-size="16.2" font-weight="bold" text-anchor="start" fill="#000" textLength="17.2" lengthAdjust="spacingAndGlyphs" stroke="#000" stroke-width="0.55">per</text>
<text x="113.0" y="0" font-size="16.2" font-weight="bold" text-anchor="start" fill="#000" textLength="37.4" lengthAdjust="spacingAndGlyphs" stroke="#000" stroke-width="0.55">tissue)</text>
</g>
<line x1="114.19999999999999" y1="686.1" x2="114.19999999999999" y2="697.2" stroke="#000" stroke-width="1.4"/>
<line x1="109.69999999999999" y1="686.1" x2="118.69999999999999" y2="686.1" stroke="#000" stroke-width="1.4"/>
<line x1="135.0" y1="730.2" x2="135.0" y2="742.9" stroke="#000" stroke-width="1.4"/>
<line x1="130.5" y1="730.2" x2="139.5" y2="730.2" stroke="#000" stroke-width="1.4"/>
<rect x="124.80" y="742.65" width="19.65" height="39.35" fill="#9E2EB5" stroke="#000" stroke-width="1.5"/>
<circle cx="129.2" cy="749.5" r="0.7" fill="#fff" opacity="0.42"/>
<circle cx="133.3" cy="750.5" r="0.7" fill="#fff" opacity="0.42"/>
<circle cx="137.4" cy="749.5" r="0.7" fill="#fff" opacity="0.42"/>
<circle cx="141.5" cy="750.5" r="0.7" fill="#fff" opacity="0.42"/>
<circle cx="129.2" cy="754.5" r="0.7" fill="#fff" opacity="0.42"/>
<circle cx="133.3" cy="755.5" r="0.7" fill="#fff" opacity="0.42"/>
<circle cx="137.4" cy="754.5" r="0.7" fill="#fff" opacity="0.42"/>
<circle cx="141.5" cy="755.5" r="0.7" fill="#fff" opacity="0.42"/>
<circle cx="129.2" cy="759.5" r="0.7" fill="#fff" opacity="0.42"/>
<circle cx="133.3" cy="760.5" r="0.7" fill="#fff" opacity="0.42"/>
<circle cx="137.4" cy="759.5" r="0.7" fill="#fff" opacity="0.42"/>
<circle cx="141.5" cy="760.5" r="0.7" fill="#fff" opacity="0.42"/>
<circle cx="129.2" cy="764.5" r="0.7" fill="#fff" opacity="0.42"/>
<circle cx="133.3" cy="765.5" r="0.7" fill="#fff" opacity="0.42"/>
<circle cx="137.4" cy="764.5" r="0.7" fill="#fff" opacity="0.42"/>
<circle cx="141.5" cy="765.5" r="0.7" fill="#fff" opacity="0.42"/>
<circle cx="129.2" cy="769.5" r="0.7" fill="#fff" opacity="0.42"/>
<circle cx="133.3" cy="770.5" r="0.7" fill="#fff" opacity="0.42"/>
<circle cx="137.4" cy="769.5" r="0.7" fill="#fff" opacity="0.42"/>
<circle cx="141.5" cy="770.5" r="0.7" fill="#fff" opacity="0.42"/>
<circle cx="129.2" cy="774.5" r="0.7" fill="#fff" opacity="0.42"/>
<circle cx="133.3" cy="775.5" r="0.7" fill="#fff" opacity="0.42"/>
<circle cx="137.4" cy="774.5" r="0.7" fill="#fff" opacity="0.42"/>
<circle cx="141.5" cy="775.5" r="0.7" fill="#fff" opacity="0.42"/>
<circle cx="129.2" cy="779.5" r="0.7" fill="#fff" opacity="0.42"/>
<circle cx="137.4" cy="779.5" r="0.7" fill="#fff" opacity="0.42"/>
<rect x="104.35" y="696.95" width="20.45" height="85.05" fill="#fff" stroke="#000" stroke-width="1.5"/>
<line x1="183.75" y1="687.8" x2="183.75" y2="695.9" stroke="#000" stroke-width="1.4"/>
<line x1="179.25" y1="687.8" x2="188.25" y2="687.8" stroke="#000" stroke-width="1.4"/>
<line x1="204.15" y1="741.0" x2="204.15" y2="749.6" stroke="#000" stroke-width="1.4"/>
<line x1="199.65" y1="741.0" x2="208.65" y2="741.0" stroke="#000" stroke-width="1.4"/>
<rect x="194.30" y="749.35" width="18.95" height="32.65" fill="#9E2EB5" stroke="#000" stroke-width="1.5"/>
<circle cx="198.8" cy="756.2" r="0.7" fill="#fff" opacity="0.42"/>
<circle cx="202.8" cy="757.2" r="0.7" fill="#fff" opacity="0.42"/>
<circle cx="206.9" cy="756.2" r="0.7" fill="#fff" opacity="0.42"/>
<circle cx="211.0" cy="757.2" r="0.7" fill="#fff" opacity="0.42"/>
<circle cx="198.8" cy="761.2" r="0.7" fill="#fff" opacity="0.42"/>
<circle cx="202.8" cy="762.2" r="0.7" fill="#fff" opacity="0.42"/>
<circle cx="206.9" cy="761.2" r="0.7" fill="#fff" opacity="0.42"/>
<circle cx="211.0" cy="762.2" r="0.7" fill="#fff" opacity="0.42"/>
<circle cx="198.8" cy="766.2" r="0.7" fill="#fff" opacity="0.42"/>
<circle cx="202.8" cy="767.2" r="0.7" fill="#fff" opacity="0.42"/>
<circle cx="206.9" cy="766.2" r="0.7" fill="#fff" opacity="0.42"/>
<circle cx="211.0" cy="767.2" r="0.7" fill="#fff" opacity="0.42"/>
<circle cx="198.8" cy="771.2" r="0.7" fill="#fff" opacity="0.42"/>
<circle cx="202.8" cy="772.2" r="0.7" fill="#fff" opacity="0.42"/>
<circle cx="206.9" cy="771.2" r="0.7" fill="#fff" opacity="0.42"/>
<circle cx="211.0" cy="772.2" r="0.7" fill="#fff" opacity="0.42"/>
<circle cx="198.8" cy="776.2" r="0.7" fill="#fff" opacity="0.42"/>
<circle cx="202.8" cy="777.2" r="0.7" fill="#fff" opacity="0.42"/>
<circle cx="206.9" cy="776.2" r="0.7" fill="#fff" opacity="0.42"/>
<circle cx="211.0" cy="777.2" r="0.7" fill="#fff" opacity="0.42"/>
<rect x="173.95" y="695.65" width="20.35" height="86.35" fill="#fff" stroke="#000" stroke-width="1.5"/>
<line x1="253.95" y1="734.7" x2="253.95" y2="739.3" stroke="#000" stroke-width="1.4"/>
<line x1="249.45" y1="734.7" x2="258.45" y2="734.7" stroke="#000" stroke-width="1.4"/>
<rect x="243.95" y="739.05" width="20.75" height="42.95" fill="#fff" stroke="#000" stroke-width="1.5"/>
<path d="M251.00 711.70H257.00M252.50 708.85L255.50 714.55M252.50 714.55L255.50 708.85" stroke="#000" stroke-width="1.75" fill="none"/>
<line x1="265.0" y1="781.6" x2="286.0" y2="781.6" stroke="#000" stroke-width="1.5"/>
<text x="268.2" y="774.3" font-size="10.8" font-weight="bold" text-anchor="start" fill="#9E2EB5" textLength="23.0" lengthAdjust="spacingAndGlyphs" stroke="#9E2EB5" stroke-width="0.4">PND</text>
<rect x="113.9" y="617.6" width="7.0" height="6.8" fill="#fff" stroke="#000" stroke-width="1.4"/>
<rect x="113.9" y="641.4" width="7.0" height="6.8" fill="#9E2EB5" stroke="#000" stroke-width="1.4"/>
<text x="127.0" y="624.8" font-size="11.9" font-weight="normal" text-anchor="start" fill="#000" textLength="21.2" lengthAdjust="spacingAndGlyphs" stroke="#000" stroke-width="0.5">DLN</text>
<text x="127.0" y="648.4" font-size="11.9" font-weight="normal" text-anchor="start" fill="#000" textLength="34.6" lengthAdjust="spacingAndGlyphs" stroke="#000" stroke-width="0.5">Spleen</text>
<text x="114.2" y="809.3" font-size="10.8" font-weight="bold" text-anchor="start" fill="#000" textLength="17.4" lengthAdjust="spacingAndGlyphs">PBS</text>
<text x="177.2" y="809.3" font-size="10.8" font-weight="bold" text-anchor="start" fill="#000" textLength="32.8" lengthAdjust="spacingAndGlyphs">pVAX1</text>
<text x="232.95" y="809.3" font-size="10.8" font-weight="bold" text-anchor="start" fill="#000" textLength="78.9" lengthAdjust="spacingAndGlyphs">pVAX1-HisAK70</text>
</g>
</svg>
</body></html>
